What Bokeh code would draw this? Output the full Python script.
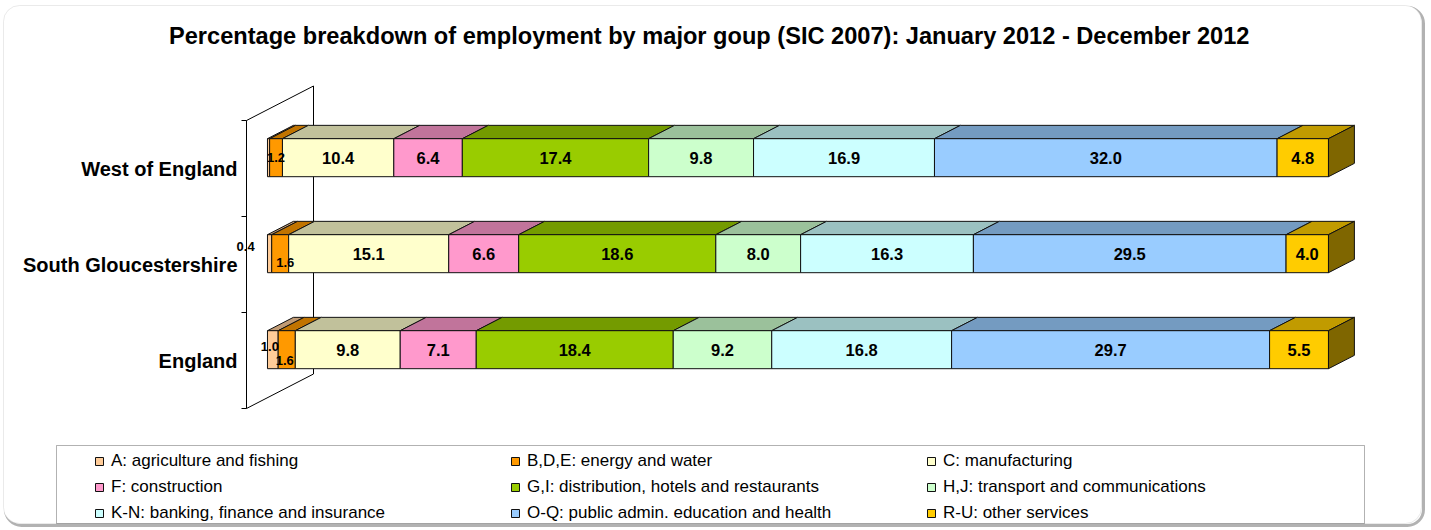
import numpy as np
from bokeh.plotting import figure
from bokeh.models import Range1d, BoxAnnotation, Legend, LegendItem
from bokeh.core.properties import value
from bokeh.embed import file_html
from bokeh.resources import INLINE

# ---------------- data ----------------
title = "Percentage breakdown of employment by major goup (SIC 2007): January 2012 -  December 2012"
areas = ["England", "South Gloucestershire", "West of England"]  # bottom -> top
sectors = [
    "A: agriculture and fishing",
    "B,D,E: energy and water",
    "C: manufacturing",
    "F: construction",
    "G,I: distribution, hotels and restaurants",
    "H,J: transport and communications",
    "K-N: banking, finance and insurance",
    "O-Q: public admin. education and health",
    "R-U: other services",
]
england = [1.0, 1.6, 9.8, 7.1, 18.4, 9.2, 16.8, 29.7, 5.5]
south_glos = [0.4, 1.6, 15.1, 6.6, 18.6, 8.0, 16.3, 29.5, 4.0]
west_of_england = [0.2, 1.2, 10.4, 6.4, 17.4, 9.8, 16.9, 32.0, 4.8]
series_by_area = [england, south_glos, west_of_england]

# ---------------- style ----------------
colors = ["#FFCC99", "#FF9900", "#FFFFCC", "#FF99CC", "#99CC00",
          "#CCFFCC", "#CCFFFF", "#99CCFF", "#FFCC00"]


def shade(hexc, k):
    r, g, b = int(hexc[1:3], 16), int(hexc[3:5], 16), int(hexc[5:7], 16)
    return "#%02x%02x%02x" % (int(r * k), int(g * k), int(b * k))


FONT = "Liberation Sans"
W, H = 1428, 528
PX = 10.61   # pixels per percent
PY = 96.0    # pixels per category
X0, Y0 = 246.0, 360.0   # position of value 0 / first category (front plane)


def xd(X):
    return (X - X0) / PX


def yd(Y):
    return (Y0 - Y) / PY


DX, DY = 67.0 / PX, 34.5 / PY       # full depth of the 3-D wall
F0, F1 = 0.313, 0.70                 # front / back depth of bars
HH = 19.0 / PY                       # half bar height
EDGE = "#111111"

p = figure(width=W, height=H, output_backend="svg", toolbar_location=None,
           x_range=Range1d(xd(0), xd(W)), y_range=Range1d(yd(H), yd(0)),
           x_axis_location=None, y_axis_location=None, min_border=0,
           outline_line_color=None, background_fill_color="white")
p.grid.visible = False

# chart box with shadow
p.add_layout(BoxAnnotation(left=xd(5), right=xd(1423), top=yd(7), bottom=yd(525),
                           fill_color=None, line_color="black", line_width=3,
                           border_radius=16, level="underlay"))
p.add_layout(BoxAnnotation(left=xd(3), right=xd(1421), top=yd(5), bottom=yd(523),
                           fill_color="white", fill_alpha=1, line_color="#b8b8b8",
                           line_width=1, border_radius=16, level="underlay"))
# legend frame
p.add_layout(BoxAnnotation(left=xd(56), right=xd(1364), top=yd(445), bottom=yd(523),
                           fill_color=None, line_color="black", line_width=1,
                           level="underlay"))

# ---------------- wall / axis ----------------
n = len(areas)
bounds = np.arange(n + 1) - 0.5
y_lo, y_hi = bounds[0], bounds[-1]
p.segment(x0=[0, DX, 0, 0], y0=[y_lo, y_lo + DY, y_hi, y_lo],
          x1=[0, DX, DX, DX], y1=[y_hi, y_hi + DY, y_hi + DY, y_lo + DY],
          line_color="black", line_width=1)
p.segment(x0=[-5 / PX] * len(bounds), y0=list(bounds), x1=[0] * len(bounds),
          y1=list(bounds), line_color="black", line_width=1)
p.text(x=[-9 / PX] * n, y=list(range(n)), text=areas, text_align="right",
       text_baseline="middle", text_font=value(FONT), text_font_style="bold",
       text_font_size="20px", text_color="black")

# title
p.text(x=[xd(712)], y=[yd(35)], text=[title], text_align="center",
       text_baseline="middle", text_font=value(FONT), text_font_style="bold",
       text_font_size="23.6px", text_color="black")

# ---------------- bars ----------------
ox0, oy0 = F0 * DX, F0 * DY
ox1, oy1 = F1 * DX, F1 * DY

# nudges (px) for labels of very small segments: (area index, sector index) -> (dx, dy)
nudges = {(1, 0): (-24, 7), (1, 1): (5, -9), (0, 0): (-3, 3), (0, 1): (-2, -11)}

vals = np.array(series_by_area, dtype=float)
vals = vals * 100.0 / vals.sum(axis=1, keepdims=True)   # 100% stacked
rights = np.cumsum(vals, axis=1)
lefts = rights - vals

legend_items = []
for s in range(len(sectors)):
    L = lefts[:, s]
    R = rights[:, s]
    yc = np.arange(n, dtype=float)
    xs_top, ys_top = [], []
    for i in range(n):
        t0, t1 = yc[i] + oy0 + HH, yc[i] + oy1 + HH
        xs_top.append([L[i] + ox0, R[i] + ox0, R[i] + ox1, L[i] + ox1])
        ys_top.append([t0, t0, t1, t1])
    p.patches(xs=xs_top, ys=ys_top, fill_color=shade(colors[s], 0.76),
              line_color=EDGE, line_width=1)
    front = p.quad(left=L + ox0, right=R + ox0, bottom=yc + oy0 - HH, top=yc + oy0 + HH,
                   fill_color=colors[s], line_color=EDGE, line_width=1)
    legend_items.append(LegendItem(label=sectors[s], renderers=[front]))
    if s == len(sectors) - 1:
        xs_side, ys_side = [], []
        for i in range(n):
            xs_side.append([R[i] + ox0, R[i] + ox0, R[i] + ox1, R[i] + ox1])
            ys_side.append([yc[i] + oy0 - HH, yc[i] + oy0 + HH,
                            yc[i] + oy1 + HH, yc[i] + oy1 - HH])
        p.patches(xs=xs_side, ys=ys_side, fill_color=shade(colors[s], 0.5),
                  line_color=EDGE, line_width=1)

# value labels
for i in range(n):
    big_x, big_y, big_t, sm_x, sm_y, sm_t = [], [], [], [], [], []
    for s in range(len(sectors)):
        raw = series_by_area[i][s]
        if raw < 0.3:
            continue
        cx = (lefts[i, s] + rights[i, s]) / 2 + ox0
        cy = i + oy0
        if (i, s) in nudges:
            dx, dy = nudges[(i, s)]
            sm_x.append(cx + dx / PX)
            sm_y.append(cy + dy / PY)
            sm_t.append("%.1f" % raw)
        elif raw < 3:
            sm_x.append(cx)
            sm_y.append(cy)
            sm_t.append("%.1f" % raw)
        else:
            big_x.append(cx)
            big_y.append(cy)
            big_t.append("%.1f" % raw)
    p.text(x=big_x, y=big_y, text=big_t, text_align="center", text_baseline="middle",
           text_font=value(FONT), text_font_style="bold", text_font_size="16.5px",
           text_color="black")
    p.text(x=sm_x, y=sm_y, text=sm_t, text_align="center", text_baseline="middle",
           text_font=value(FONT), text_font_style="bold", text_font_size="13px",
           text_color="black")

legend = Legend(items=legend_items, orientation="horizontal", ncols=3,
                location=(94, 5), glyph_width=10, glyph_height=10, label_standoff=7,
                label_width=393, label_height=20, spacing=6, padding=0, margin=0,
                border_line_color=None, background_fill_alpha=0,
                label_text_font=FONT, label_text_font_size="17px",
                label_text_color="black")
p.add_layout(legend)

open("out.html", "w").write(file_html(p, INLINE))
